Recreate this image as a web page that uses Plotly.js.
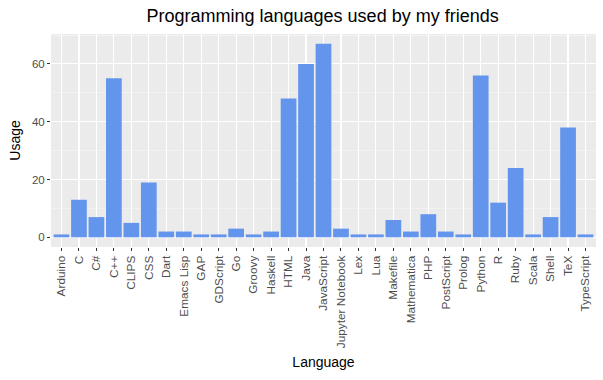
<!DOCTYPE html>
<html>
<head>
<meta charset="utf-8">
<script src="https://cdn.plot.ly/plotly-3.0.1.min.js"></script>
<style>html,body{margin:0;padding:0;background:#fff;}#chart{width:603px;height:380px;}</style>
</head>
<body>
<div id="chart"></div>
<script>
const languages = ["Arduino","C","C#","C++","CLIPS","CSS","Dart","Emacs Lisp","GAP","GDScript","Go","Groovy","Haskell","HTML","Java","JavaScript","Jupyter Notebook","Lex","Lua","Makefile","Mathematica","PHP","PostScript","Prolog","Python","R","Ruby","Scala","Shell","TeX","TypeScript"];
const usage = [1,13,7,55,5,19,2,2,1,1,3,1,2,48,60,67,3,1,1,6,2,8,2,1,56,12,24,1,7,38,1];
const yTicks = [0,20,40,60];

const trace = {
  type: "bar",
  x: languages,
  y: usage,
  width: 0.9,
  marker: {color: "#6495ED", line: {width: 0}},
  hoverinfo: "x+y"
};

const layout = {
  width: 603, height: 380,
  margin: {l: 51, r: 7, t: 34, b: 133},
  paper_bgcolor: "#ffffff",
  plot_bgcolor: "#EBEBEB",
  font: {family: "Liberation Sans, Arial, sans-serif", color: "#000"},
  title: {text: "Programming languages used by my friends", font: {size: 18, color: "#000"}, x: 0.535, xanchor: "center", y: 0.958, yanchor: "middle"},
  showlegend: false,
  bargap: 0.1,
  xaxis: {
    type: "category",
    range: [-0.6, 30.6],
    tickangle: -90,
    tickfont: {size: 11.8, color: "#4D4D4D"},
    ticks: "outside", ticklen: 3, tickcolor: "#333333", tickwidth: 1,
    showgrid: true, gridcolor: "#FFFFFF", gridwidth: 1.1,
    zeroline: false, showline: false,
    title: {text: "Language", font: {size: 14, color: "#000"}, standoff: 10},
    fixedrange: true
  },
  yaxis: {
    range: [-3.35, 70.35],
    tickmode: "array", tickvals: yTicks, ticktext: yTicks.map(String),
    tickfont: {size: 11.5, color: "#4D4D4D"},
    ticks: "outside", ticklen: 3, tickcolor: "#333333", tickwidth: 1,
    showgrid: true, gridcolor: "#FFFFFF", gridwidth: 1.1,
    minor: {tickmode: "array", tickvals: [10,30,50,70], showgrid: true, gridcolor: "#F7F7F7", gridwidth: 0.6, ticks: ""},
    zeroline: false, showline: false,
    title: {text: "Usage", font: {size: 14, color: "#000"}, standoff: 8},
    fixedrange: true
  }
};

Plotly.newPlot("chart", [trace], layout, {displayModeBar: false, staticPlot: true});
</script>
</body>
</html>
